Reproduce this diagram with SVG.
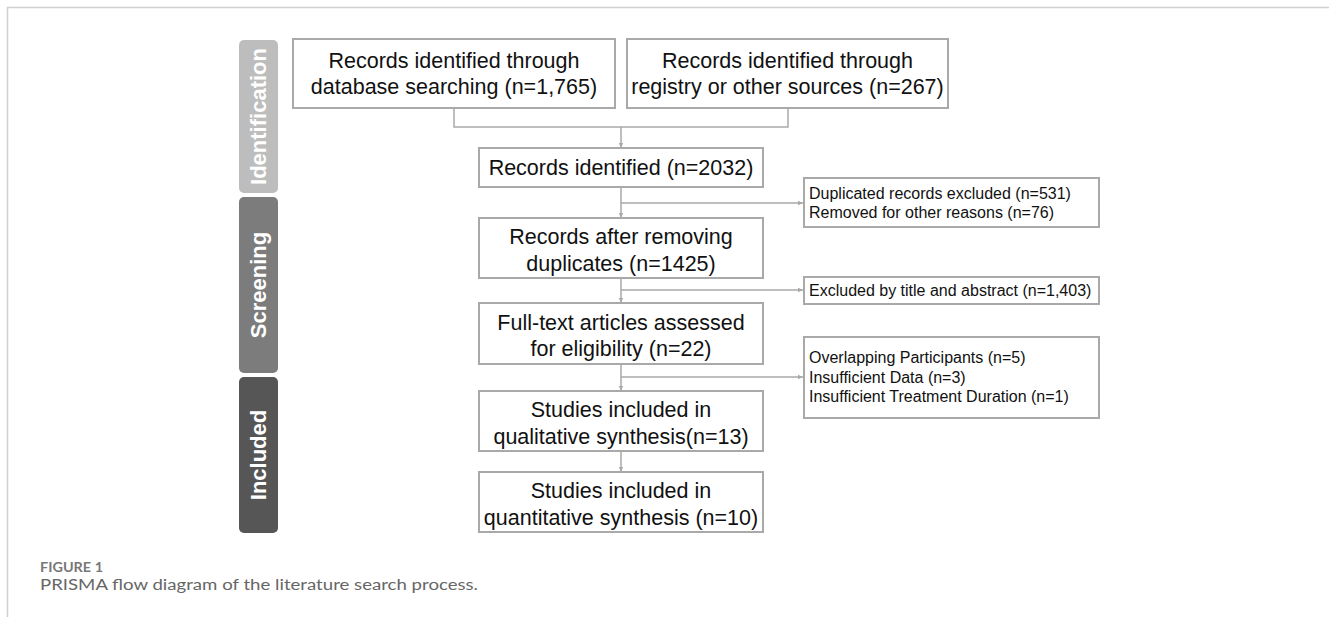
<svg xmlns="http://www.w3.org/2000/svg" width="1329" height="617" viewBox="0 0 1329 617">
<style>
.box{fill:#fff;stroke:#a9a9a9;stroke-width:2}
.t{font-family:"Liberation Sans",Arial,sans-serif;font-size:21.5px;fill:#111;text-anchor:middle}
.s{font-family:"Liberation Sans",Arial,sans-serif;font-size:16px;fill:#111}
.bar{font-family:"Liberation Sans",Arial,sans-serif;font-size:22px;font-weight:bold;fill:#fff;text-anchor:middle}
.c{fill:none;stroke:#a9a9a9;stroke-width:1.5}
.frame{stroke:#d0d0d0;stroke-width:1.5;fill:none}
</style>
<defs>
<marker id="ah" markerWidth="6" markerHeight="6" refX="5" refY="3" orient="auto" markerUnits="userSpaceOnUse">
<path d="M0,0.8 L5,3 L0,5.2 Z" fill="#a9a9a9"/>
</marker>
</defs>
<rect width="1329" height="617" fill="#fff"/>
<path class="frame" d="M7.5,617 V7.5 H1329"/>

<g id="phase-identification">
<rect x="239" y="40" width="39" height="153" rx="5" fill="#bdbdbd"/>
<text class="bar" transform="translate(266,116.5) rotate(-90)">Identification</text>
</g>
<g id="phase-screening">
<rect x="239" y="197" width="39" height="176" rx="5" fill="#7c7c7c"/>
<text class="bar" transform="translate(266,285) rotate(-90)">Screening</text>
</g>
<g id="phase-included">
<rect x="239" y="377" width="39" height="156" rx="5" fill="#565656"/>
<text class="bar" transform="translate(266,455) rotate(-90)">Included</text>
</g>

<g id="connectors">
<path class="c" d="M454,108 V127 H788 V108"/>
<path class="c" d="M621,127 V148" marker-end="url(#ah)"/>
<path class="c" d="M621,187 V218" marker-end="url(#ah)"/>
<path class="c" d="M621,203 H803" marker-end="url(#ah)"/>
<path class="c" d="M621,278 V303" marker-end="url(#ah)"/>
<path class="c" d="M621,290 H803" marker-end="url(#ah)"/>
<path class="c" d="M621,364 V391" marker-end="url(#ah)"/>
<path class="c" d="M621,377 H803" marker-end="url(#ah)"/>
<path class="c" d="M621,451 V472" marker-end="url(#ah)"/>
</g>

<g id="db-search">
<rect class="box" x="293" y="39" width="322" height="69"/>
<text class="t" x="454" y="67.5">Records identified through</text>
<text class="t" x="454" y="94">database searching (n=1,765)</text>
</g>
<g id="registry">
<rect class="box" x="627" y="39" width="321" height="69"/>
<text class="t" x="787.5" y="67.5">Records identified through</text>
<text class="t" x="787.5" y="94">registry or other sources (n=267)</text>
</g>
<g id="identified">
<rect class="box" x="479" y="148" width="284" height="39"/>
<text class="t" x="621" y="175">Records identified (n=2032)</text>
</g>
<g id="after-dup">
<rect class="box" x="479" y="218" width="284" height="60"/>
<text class="t" x="621" y="244">Records after removing</text>
<text class="t" x="621" y="270.5">duplicates (n=1425)</text>
</g>
<g id="fulltext">
<rect class="box" x="479" y="303" width="284" height="61"/>
<text class="t" x="621" y="329.5">Full-text articles assessed</text>
<text class="t" x="621" y="356">for eligibility (n=22)</text>
</g>
<g id="qualitative">
<rect class="box" x="479" y="391" width="284" height="60"/>
<text class="t" x="621" y="417">Studies included in</text>
<text class="t" x="621" y="443.5">qualitative synthesis(n=13)</text>
</g>
<g id="quantitative">
<rect class="box" x="479" y="472" width="284" height="60"/>
<text class="t" x="621" y="498">Studies included in</text>
<text class="t" x="621" y="524.5">quantitative synthesis (n=10)</text>
</g>

<g id="excl-dup">
<rect class="box" x="804" y="178" width="295" height="49"/>
<text class="s" x="809" y="198.5">Duplicated records excluded (n=531)</text>
<text class="s" x="809" y="217.5">Removed for other reasons (n=76)</text>
</g>
<g id="excl-title">
<rect class="box" x="804" y="277" width="295" height="27"/>
<text class="s" x="809" y="296">Excluded by title and abstract (n=1,403)</text>
</g>
<g id="excl-fulltext">
<rect class="box" x="804" y="337" width="295" height="81"/>
<text class="s" x="809" y="363">Overlapping Participants (n=5)</text>
<text class="s" x="809" y="382.5">Insufficient Data (n=3)</text>
<text class="s" x="809" y="402">Insufficient Treatment Duration (n=1)</text>
</g>

<g id="caption">
<text x="40" y="571.5" font-family="Lato,sans-serif" font-size="13px" font-weight="bold" fill="#777" textLength="63" lengthAdjust="spacingAndGlyphs">FIGURE 1</text>
<text x="40" y="590" font-family="Lato,sans-serif" font-size="15.5px" fill="#666" textLength="438" lengthAdjust="spacingAndGlyphs">PRISMA flow diagram of the literature search process.</text>
</g>
</svg>
